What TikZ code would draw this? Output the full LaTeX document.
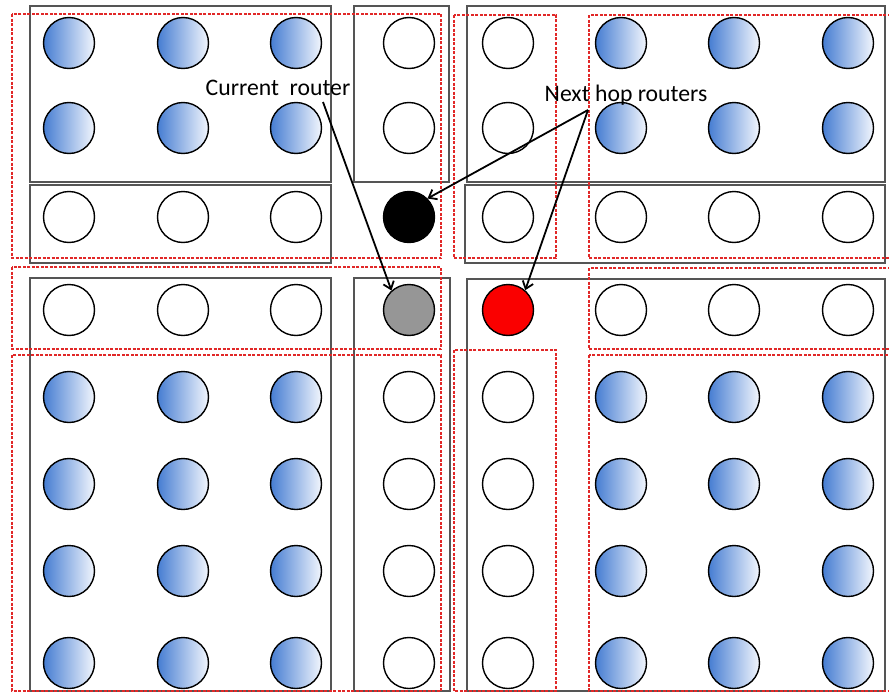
\documentclass[tikz,border=0pt]{standalone}
\usepackage{fontspec}
\setmainfont{Carlito}
\usetikzlibrary{arrows.meta}
\definecolor{boxgray}{RGB}{85,85,85}
\definecolor{dashred}{RGB}{225,40,40}
\definecolor{bluedark}{RGB}{70,125,210}
\definecolor{bluelight}{RGB}{242,246,253}
\definecolor{routergray}{RGB}{150,150,150}
\definecolor{routerred}{RGB}{250,0,0}
\begin{document}
\begin{tikzpicture}[x=1pt,y=-1pt,
  box/.style={draw=boxgray, line width=1.6pt},
  zone/.style={draw=dashred, line width=1.1pt, dash pattern=on 3pt off 1.5pt},
  router/.style={circle, draw=black, line width=1.4pt, minimum size=51pt, inner sep=0pt},
  bluerouter/.style={router, left color=bluedark, right color=bluelight},
  whiterouter/.style={router, fill=white},
  label/.style={anchor=base, inner sep=0pt, font=\fontsize{23.7}{28}\selectfont},
  pointer/.style={draw=black, line width=1.8pt, -{Straight Barb[length=7pt,width=11pt]}}
]
\clip (0,0) rectangle (889,696);
\fill[white] (0,0) rectangle (889,696);

% black boxes
\draw[box] (30,6) rectangle (331,182);
\draw[box] (30,185) rectangle (331,263);
\draw[box] (30,278) rectangle (331,691);
\draw[box] (354,6) rectangle (449,182);
\draw[box] (354,278) rectangle (450,691);
\draw[box] (467,6) rectangle (885,182);
\draw[box] (465,185) rectangle (885,263);
\draw[box] (467,279) rectangle (885,691);

% red dashed zones
\draw[zone] (12,14) rectangle (441,258);
\draw[zone] (12,267) rectangle (441,349);
\draw[zone] (12,355) rectangle (441,691);
\draw[zone] (454,15) rectangle (556,258);
\draw[zone] (589,15) rectangle (895,258);
\draw[zone] (589,268) rectangle (895,349);
\draw[zone] (454,350) rectangle (556,691);
\draw[zone] (589,355) rectangle (895,691);

% routers
\foreach \i/\x in {1/69,2/183,3/296,6/621,7/734,8/848}
  \foreach \j/\y in {1/43,2/128,5/397,6/484,7/571,8/663}
    \node[bluerouter] (c\i-\j) at (\x,\y) {};
\foreach \i/\x in {1/69,2/183,3/296,6/621,7/734,8/848}
  \foreach \j/\y in {3/217,4/310}
    \node[whiterouter] (c\i-\j) at (\x,\y) {};
\foreach \j/\y in {1/43,2/128,5/397,6/484,7/571,8/663}
  \node[whiterouter] (c4-\j) at (409,\y) {};
\foreach \j/\y in {1/43,2/128,3/217,5/397,6/484,7/571,8/663}
  \node[whiterouter] (c5-\j) at (508,\y) {};
\node[router, fill=black] (c4-3) at (409,217) {};
\node[router, fill=routergray] (c4-4) at (409,310) {};
\node[router, fill=routerred] (c5-4) at (508,310) {};

% labels
\node[label] (cur) at (278,95) {Current\ \ router};
\node[label] (nh) at (626,101) {Next hop routers};
\coordinate (curtail) at (323,102);
\coordinate (nhtail) at (588,110);

% pointers
\draw[pointer] (curtail) -- (c4-4.132);
\draw[pointer] (nhtail) -- (c4-3.45);
\draw[pointer] (nhtail) -- (c5-4.49);
\end{tikzpicture}
\end{document}
